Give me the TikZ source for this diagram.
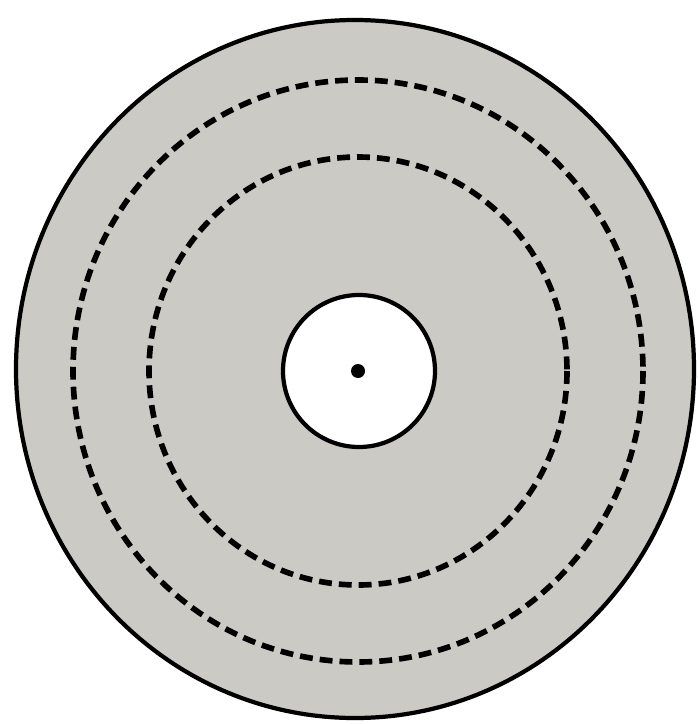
\documentclass[tikz,border=0pt]{standalone}
\usepackage{tikz}
\definecolor{discgray}{RGB}{204,202,196}
\begin{document}
\begin{tikzpicture}[x=0.03cm, y=-0.03cm]
            % Frame
             \useasboundingbox (0,0) rectangle (698,724);
             \fill[white] (0,0) rectangle (698,724);

            % Outer disc
             \fill[discgray] (355,369) ellipse (339 and 349);
             \draw[line width=3.6pt] (355,369) ellipse (339 and 349);

            % Dashed rings
             \draw[line width=4.8pt, dash pattern=on 11pt off 6pt] (358,371) ellipse (285 and 291);
             \draw[line width=4.8pt, dash pattern=on 11pt off 6pt] (358,371) ellipse (209 and 214);

            % Inner hole and centre point
             \filldraw[fill=white, line width=3.6pt] (359,371) circle (76);
             \fill[black] (358,371) circle (7);
        \end{tikzpicture}
\end{document}
